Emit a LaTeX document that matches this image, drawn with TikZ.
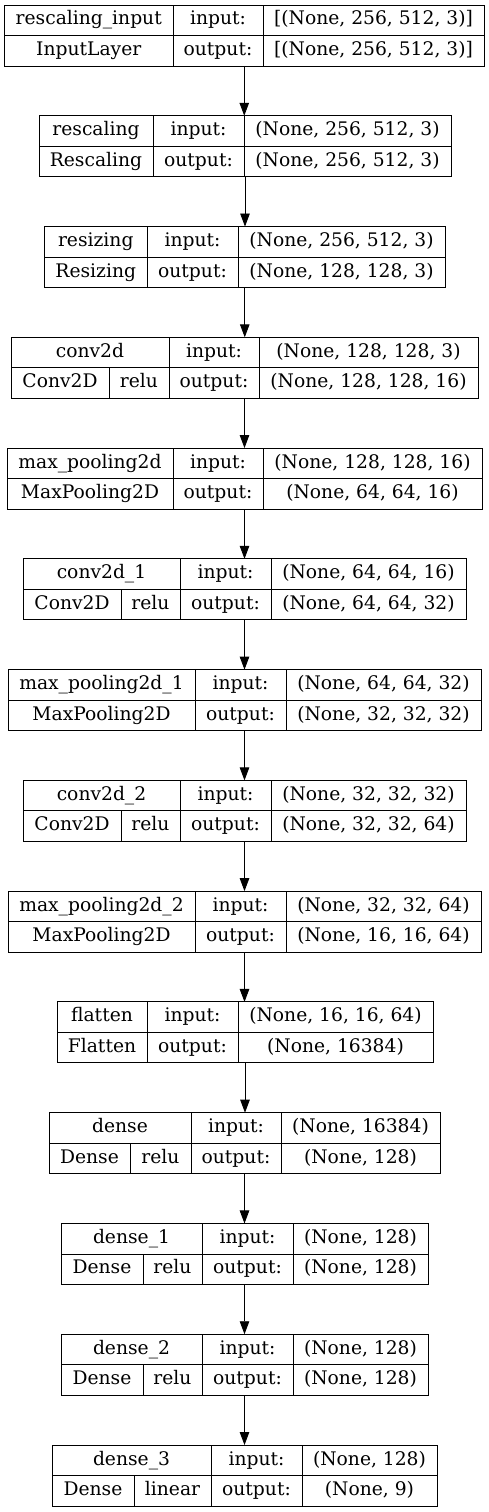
\documentclass[tikz,border=0pt]{standalone}
\usepackage{fontspec}
\setmainfont{DejaVu Serif}
\usetikzlibrary{arrows.meta}

\tikzset{
  cell/.style={draw, rectangle, inner sep=0pt, outer sep=0pt, line width=0.9pt,
               minimum height=30.5pt, text height=14pt, text depth=4.5pt},
  layerbox/.style={draw, rectangle, inner sep=0pt, outer sep=0pt, line width=0.9pt,
                   minimum height=61pt},
  flow/.style={-{Triangle[length=13pt,width=9.5pt]}, line width=0.9pt}
}

\begin{document}
\begin{tikzpicture}[x=1pt, y=-1pt, font=\fontsize{18.7}{22}\selectfont]
    \useasboundingbox (0,0) rectangle (489,1512);
    % one box per layer: name, class, activation, split, left, col1, col2, right, shapes
    \foreach \nm/\cls/\act/\s/\l/\a/\b/\r/\shin/\shout [count=\i] in {
      rescaling\_input/InputLayer/-/0/4.5/173/263/484/{[(None, 256, 512, 3)]}/{[(None, 256, 512, 3)]},
      rescaling/Rescaling/-/0/39/153/244/451/{(None, 256, 512, 3)}/{(None, 256, 512, 3)},
      resizing/Resizing/-/0/44.5/147/238/445/{(None, 256, 512, 3)}/{(None, 128, 128, 3)},
      conv2d/Conv2D/relu/109/11/169/259/478/{(None, 128, 128, 3)}/{(None, 128, 128, 16)},
      max\_pooling2d/MaxPooling2D/-/0/7/173/263/482/{(None, 128, 128, 16)}/{(None, 64, 64, 16)},
      conv2d\_1/Conv2D/relu/121/23/180/271/466/{(None, 64, 64, 16)}/{(None, 64, 64, 32)},
      max\_pooling2d\_1/MaxPooling2D/-/0/8/195/286/481/{(None, 64, 64, 32)}/{(None, 32, 32, 32)},
      conv2d\_2/Conv2D/relu/121/23/180/271/466/{(None, 32, 32, 32)}/{(None, 32, 32, 64)},
      max\_pooling2d\_2/MaxPooling2D/-/0/8/195/286/481/{(None, 32, 32, 64)}/{(None, 16, 16, 64)},
      flatten/Flatten/-/0/57/147/238/433/{(None, 16, 16, 64)}/{(None, 16384)},
      dense/Dense/relu/130/49/191/281/440/{(None, 16384)}/{(None, 128)},
      dense\_1/Dense/relu/143/61/202/293/428/{(None, 128)}/{(None, 128)},
      dense\_2/Dense/relu/143/61/202/293/428/{(None, 128)}/{(None, 128)},
      dense\_3/Dense/linear/134/52/211/302/437/{(None, 128)}/{(None, 9)}} {
      \pgfmathsetmacro\yt{5+(\i-1)*110.77}
      \node[layerbox, minimum width=\r-\l] (L\i) at ({(\l+\r)/2}, \yt+30.5) {};
      % top row
      \node[cell, minimum width=\a-\l] (L\i-name) at ({(\l+\a)/2}, \yt+15.25) {\nm};
      \node[cell, minimum width=\b-\a] (L\i-inlabel) at ({(\a+\b)/2}, \yt+15.25) {input:};
      \node[cell, minimum width=\r-\b] (L\i-in) at ({(\b+\r)/2}, \yt+15.25) {\shin};
      % bottom row
      \ifnum\s=0
        \node[cell, minimum width=\a-\l] (L\i-class) at ({(\l+\a)/2}, \yt+45.75) {\cls};
      \else
        \node[cell, minimum width=\s-\l] (L\i-class) at ({(\l+\s)/2}, \yt+45.75) {\cls};
        \node[cell, minimum width=\a-\s] (L\i-act) at ({(\s+\a)/2}, \yt+45.75) {\act};
      \fi
      \node[cell, minimum width=\b-\a] (L\i-outlabel) at ({(\a+\b)/2}, \yt+45.75) {output:};
      \node[cell, minimum width=\r-\b] (L\i-out) at ({(\b+\r)/2}, \yt+45.75) {\shout};
    }
    \foreach \i [evaluate=\i as \j using int(\i+1)] in {1,...,13} {
      \draw[flow] (L\i.south) -- (L\i.south |- L\j.north);
    }
  \end{tikzpicture}
\end{document}
